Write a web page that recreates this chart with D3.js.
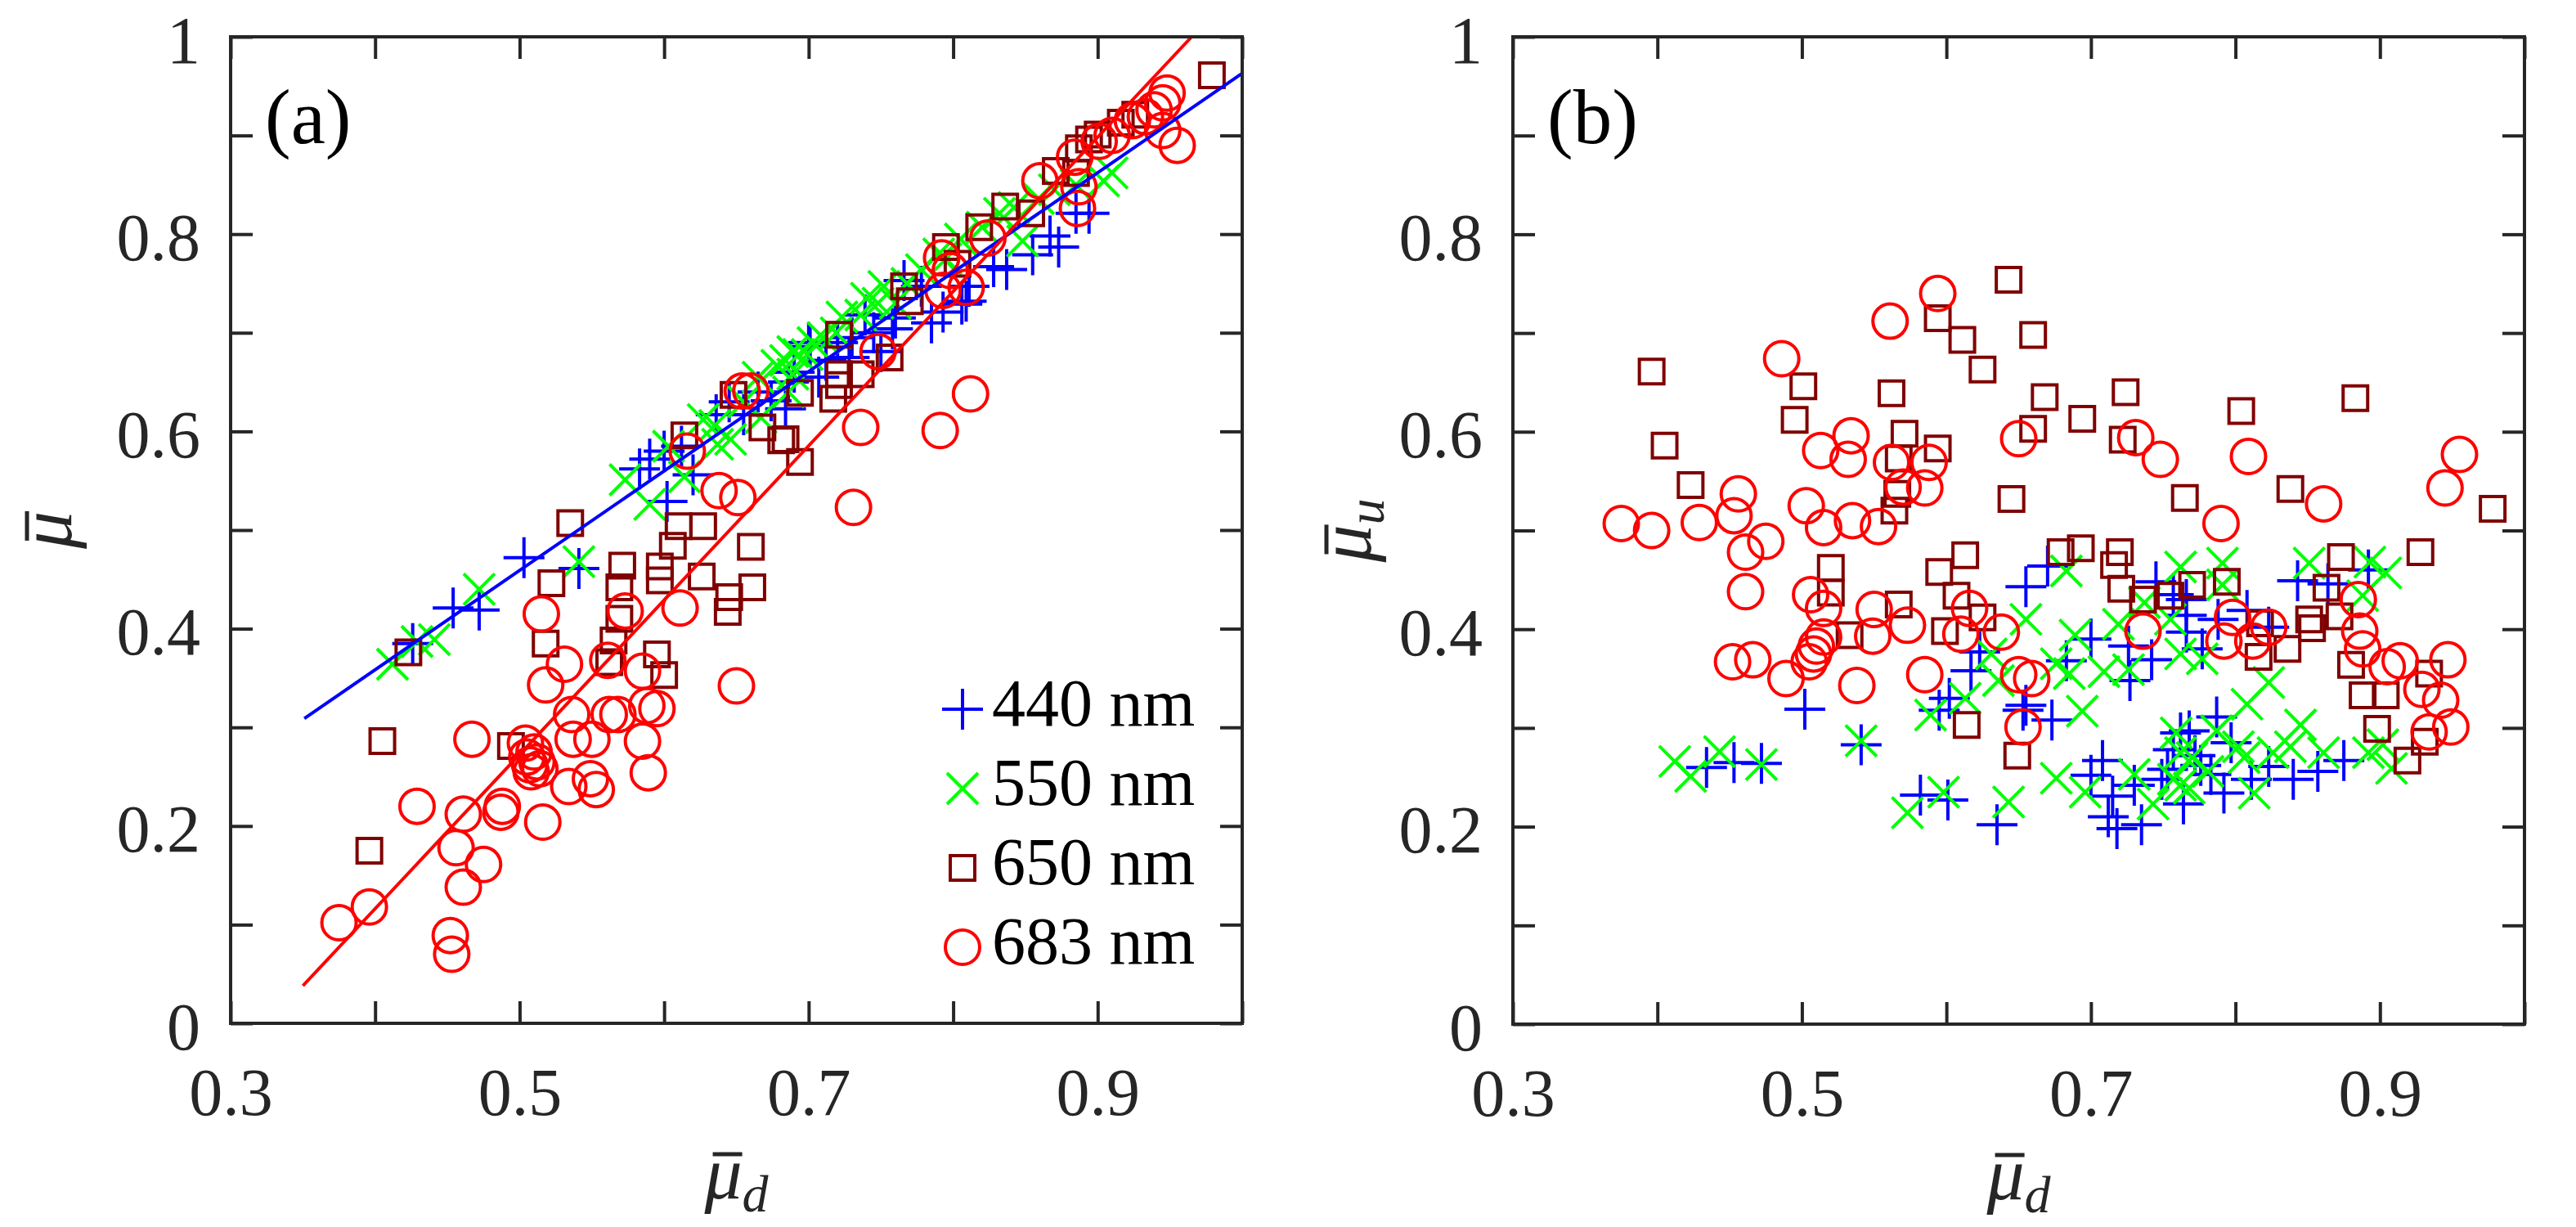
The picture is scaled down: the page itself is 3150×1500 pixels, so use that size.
<!DOCTYPE html>
<html><head><meta charset="utf-8">
<script src="https://cdn.jsdelivr.net/npm/d3@7"></script>
<style>html,body{margin:0;padding:0;background:#fff;}
text{font-family:"Liberation Serif","Times New Roman",Times,serif;}
</style>
</head><body><svg id="c" width="3150" height="1500"></svg>
<script>
// ---------- data ----------
const xTicks=[0.3,0.4,0.5,0.6,0.7,0.8,0.9,1.0];
const xTickLabels=[0.3,0.5,0.7,0.9];
const yTicks=[0,0.1,0.2,0.3,0.4,0.5,0.6,0.7,0.8,0.9,1.0];
const yTickLabels=[0,0.2,0.4,0.6,0.8,1];
const seriesNames=["440 nm","550 nm","650 nm","683 nm"];
const seriesColors=["#0000ff","#00ff00","#800000","#ff0000"];
const seriesSymbols=["plus","cross","square","circle"];
const panelLabels=["(a)","(b)"];

const a440=[[0.426,0.385],[0.454,0.421],[0.472,0.419],[0.503,0.472],[0.541,0.461],[0.583,0.562],[0.590,0.572],[0.602,0.529],[0.600,0.580],[0.612,0.585],[0.620,0.556],[0.636,0.617],[0.645,0.630],[0.655,0.617],[0.665,0.640],[0.674,0.631],[0.684,0.623],[0.686,0.650],[0.690,0.660],[0.700,0.690],[0.701,0.686],[0.707,0.655],[0.712,0.672],[0.720,0.690],[0.728,0.675],[0.730,0.695],[0.739,0.718],[0.745,0.700],[0.750,0.681],[0.758,0.704],[0.760,0.715],[0.766,0.753],[0.778,0.747],[0.785,0.710],[0.793,0.721],[0.806,0.729],[0.809,0.732],[0.811,0.747],[0.828,0.767],[0.837,0.764],[0.855,0.779],[0.867,0.798],[0.873,0.787],[0.885,0.821],[0.894,0.821]];
const a550=[[0.412,0.364],[0.429,0.387],[0.441,0.389],[0.472,0.440],[0.541,0.468],[0.573,0.551],[0.590,0.526],[0.603,0.585],[0.614,0.554],[0.627,0.612],[0.635,0.606],[0.637,0.587],[0.646,0.592],[0.655,0.630],[0.665,0.655],[0.667,0.614],[0.678,0.667],[0.684,0.672],[0.686,0.640],[0.689,0.681],[0.689,0.658],[0.693,0.678],[0.699,0.678],[0.703,0.690],[0.710,0.695],[0.719,0.700],[0.723,0.716],[0.736,0.718],[0.740,0.735],[0.748,0.730],[0.752,0.747],[0.760,0.730],[0.768,0.750],[0.778,0.764],[0.790,0.780],[0.795,0.775],[0.805,0.795],[0.820,0.807],[0.832,0.821],[0.842,0.827],[0.848,0.793],[0.859,0.836],[0.870,0.845],[0.885,0.850],[0.904,0.854],[0.910,0.862]];
const a650=[[0.396,0.175],[0.405,0.286],[0.423,0.376],[0.494,0.281],[0.518,0.385],[0.522,0.446],[0.535,0.507],[0.562,0.366],[0.565,0.388],[0.569,0.410],[0.569,0.442],[0.571,0.464],[0.595,0.374],[0.597,0.449],[0.597,0.463],[0.600,0.353],[0.606,0.484],[0.610,0.504],[0.614,0.596],[0.626,0.453],[0.627,0.504],[0.644,0.417],[0.645,0.432],[0.661,0.442],[0.660,0.483],[0.648,0.637],[0.668,0.604],[0.681,0.591],[0.694,0.569],[0.694,0.639],[0.684,0.592],[0.717,0.633],[0.721,0.647],[0.721,0.658],[0.721,0.698],[0.736,0.658],[0.756,0.675],[0.766,0.747],[0.770,0.732],[0.795,0.787],[0.803,0.770],[0.818,0.807],[0.836,0.828],[0.854,0.821],[0.871,0.864],[0.885,0.862],[0.887,0.887],[0.894,0.896],[0.900,0.901],[0.916,0.913],[0.926,0.921],[0.979,0.961]];
const a683=[[0.375,0.102],[0.396,0.118],[0.429,0.220],[0.452,0.089],[0.453,0.070],[0.456,0.178],[0.461,0.212],[0.461,0.138],[0.467,0.288],[0.475,0.161],[0.487,0.214],[0.488,0.220],[0.504,0.284],[0.505,0.270],[0.507,0.262],[0.508,0.255],[0.510,0.275],[0.512,0.265],[0.514,0.258],[0.515,0.415],[0.516,0.204],[0.518,0.343],[0.531,0.364],[0.534,0.240],[0.536,0.313],[0.537,0.288],[0.549,0.248],[0.550,0.288],[0.553,0.237],[0.561,0.368],[0.562,0.313],[0.568,0.313],[0.573,0.418],[0.585,0.357],[0.585,0.286],[0.588,0.322],[0.589,0.254],[0.595,0.319],[0.611,0.421],[0.616,0.580],[0.638,0.540],[0.650,0.342],[0.651,0.533],[0.654,0.641],[0.660,0.641],[0.731,0.523],[0.736,0.604],[0.748,0.681],[0.791,0.601],[0.792,0.776],[0.798,0.763],[0.809,0.746],[0.793,0.743],[0.812,0.638],[0.824,0.796],[0.860,0.854],[0.884,0.878],[0.886,0.826],[0.887,0.848],[0.901,0.894],[0.910,0.900],[0.924,0.915],[0.933,0.919],[0.939,0.926],[0.945,0.933],[0.948,0.943],[0.945,0.905],[0.955,0.890]];

const b440=[[0.434,0.260],[0.453,0.265],[0.472,0.264],[0.502,0.319],[0.541,0.283],[0.582,0.232],[0.595,0.318],[0.601,0.227],[0.602,0.330],[0.617,0.358],[0.623,0.377],[0.635,0.202],[0.653,0.318],[0.655,0.323],[0.655,0.443],[0.670,0.464],[0.673,0.308],[0.683,0.368],[0.700,0.390],[0.700,0.252],[0.708,0.267],[0.712,0.210],[0.715,0.231],[0.718,0.198],[0.726,0.383],[0.727,0.348],[0.730,0.242],[0.735,0.202],[0.742,0.369],[0.745,0.448],[0.749,0.248],[0.753,0.258],[0.757,0.435],[0.757,0.278],[0.762,0.295],[0.764,0.223],[0.766,0.397],[0.766,0.414],[0.766,0.430],[0.768,0.297],[0.772,0.272],[0.776,0.262],[0.777,0.380],[0.783,0.253],[0.787,0.311],[0.788,0.410],[0.792,0.234],[0.797,0.285],[0.808,0.419],[0.811,0.248],[0.823,0.402],[0.823,0.261],[0.840,0.248],[0.843,0.449],[0.857,0.256],[0.864,0.446],[0.875,0.267],[0.892,0.460]];
const b550=[[0.412,0.266],[0.423,0.251],[0.443,0.276],[0.472,0.263],[0.541,0.287],[0.573,0.214],[0.589,0.313],[0.598,0.235],[0.613,0.330],[0.631,0.375],[0.636,0.348],[0.643,0.225],[0.655,0.410],[0.676,0.365],[0.676,0.249],[0.683,0.459],[0.685,0.355],[0.689,0.394],[0.694,0.317],[0.696,0.235],[0.709,0.357],[0.719,0.405],[0.726,0.359],[0.730,0.253],[0.737,0.427],[0.743,0.223],[0.755,0.410],[0.757,0.248],[0.759,0.295],[0.762,0.463],[0.762,0.375],[0.762,0.275],[0.762,0.242],[0.768,0.239],[0.770,0.270],[0.777,0.370],[0.781,0.256],[0.787,0.297],[0.791,0.467],[0.791,0.445],[0.802,0.281],[0.806,0.270],[0.808,0.324],[0.813,0.234],[0.823,0.346],[0.826,0.275],[0.838,0.281],[0.845,0.303],[0.851,0.467],[0.861,0.275],[0.888,0.434],[0.892,0.275],[0.893,0.468],[0.902,0.283],[0.904,0.457],[0.908,0.259]];
const b650=[[0.396,0.661],[0.405,0.586],[0.423,0.546],[0.495,0.612],[0.501,0.646],[0.520,0.462],[0.520,0.437],[0.533,0.394],[0.562,0.639],[0.564,0.520],[0.566,0.537],[0.567,0.573],[0.567,0.425],[0.571,0.598],[0.594,0.715],[0.594,0.583],[0.595,0.458],[0.599,0.398],[0.607,0.434],[0.611,0.693],[0.613,0.475],[0.614,0.303],[0.625,0.663],[0.625,0.412],[0.643,0.754],[0.645,0.532],[0.649,0.272],[0.660,0.698],[0.660,0.603],[0.668,0.635],[0.679,0.478],[0.693,0.482],[0.694,0.613],[0.716,0.465],[0.720,0.478],[0.721,0.441],[0.722,0.592],[0.724,0.640],[0.736,0.430],[0.755,0.434],[0.765,0.533],[0.770,0.445],[0.794,0.448],[0.804,0.621],[0.816,0.372],[0.817,0.406],[0.836,0.380],[0.838,0.542],[0.851,0.410],[0.853,0.401],[0.863,0.442],[0.872,0.413],[0.873,0.473],[0.880,0.364],[0.883,0.634],[0.888,0.333],[0.898,0.299],[0.904,0.333],[0.919,0.267],[0.928,0.478],[0.931,0.286],[0.934,0.355],[0.978,0.522]];
const b683=[[0.375,0.507],[0.396,0.500],[0.429,0.508],[0.452,0.367],[0.453,0.515],[0.456,0.537],[0.461,0.478],[0.461,0.438],[0.466,0.369],[0.475,0.489],[0.486,0.674],[0.489,0.350],[0.503,0.525],[0.505,0.367],[0.506,0.435],[0.508,0.375],[0.510,0.383],[0.513,0.581],[0.515,0.503],[0.515,0.392],[0.515,0.421],[0.532,0.572],[0.534,0.596],[0.535,0.510],[0.538,0.343],[0.549,0.393],[0.550,0.420],[0.553,0.504],[0.561,0.712],[0.562,0.569],[0.570,0.544],[0.573,0.404],[0.585,0.543],[0.585,0.354],[0.588,0.569],[0.594,0.740],[0.610,0.395],[0.616,0.421],[0.638,0.397],[0.650,0.593],[0.650,0.354],[0.653,0.301],[0.659,0.350],[0.731,0.594],[0.736,0.398],[0.748,0.572],[0.790,0.507],[0.792,0.388],[0.798,0.412],[0.809,0.575],[0.812,0.388],[0.823,0.402],[0.861,0.527],[0.885,0.430],[0.886,0.398],[0.888,0.380],[0.905,0.362],[0.914,0.368],[0.929,0.339],[0.934,0.296],[0.942,0.328],[0.945,0.543],[0.947,0.369],[0.949,0.301],[0.955,0.577]];

// least-squares fit lines in panel (a): [x, y] end points
const fit440=[[0.351,0.309],[1.0,0.963]];
const fit683=[[0.350,0.038],[0.965,1.0]];

// ---------- drawing ----------
const svg=d3.select("#c");
svg.append("rect").attr("width",3150).attr("height",1500).attr("fill","#fff");
const FONT='"Liberation Serif","Times New Roman",Times,serif';
const AX="#262626";
const panels=[
  {left:282,top:45,width:1237,height:1206,series:[a440,a550,a650,a683],fits:[[fit440,"#0000ff"],[fit683,"#ff0000"]],legend:true,ysub:null},
  {left:1850,top:45,width:1237,height:1207,series:[b440,b550,b650,b683],fits:[],legend:false,ysub:"u"}
];
const symPath={
  plus:"M-25,0H25M0,-25V25",
  cross:"M-19,-19L19,19M-19,19L19,-19",
  square:"M-15,-15H15V15H-15Z"
};
function drawMarker(g,sym,color){
  if(sym==="circle"){
    g.append("circle").attr("r",21).attr("fill","none").attr("stroke",color).attr("stroke-width",4);
  } else {
    g.append("path").attr("d",symPath[sym]).attr("fill","none").attr("stroke",color).attr("stroke-width",4).attr("stroke-linecap","butt");
  }
}
// math label: mu with overbar and optional subscript
function mathLabel(parent,sub){
  const t=parent.append("text").attr("x",0).attr("y",0).attr("text-anchor","middle")
    .style("font-family",FONT).style("font-size","92px").style("font-style","italic").attr("fill",AX);
  t.append("tspan").text("\u03BC");
  t.append("tspan").attr("dy",16).style("font-size","64px").text(sub);
  const e=t.node().getExtentOfChar(0);
  parent.append("line").attr("x1",e.x+e.width*0.22).attr("x2",e.x+e.width*1.0)
    .attr("y1",-54).attr("y2",-54).attr("stroke",AX).attr("stroke-width",5);
  return t;
}
panels.forEach((p,pi)=>{
  const g=svg.append("g").attr("transform",`translate(${p.left},${p.top})`);
  const x=d3.scaleLinear().domain([0.3,1.0]).range([0,p.width]);
  const y=d3.scaleLinear().domain([0,1]).range([p.height,0]);
  const fmt=v=>{const r=Math.round(v*10)/10; return xTickLabels.some(t=>Math.abs(t-r)<1e-6)?String(r):"";};
  const fmtY=v=>{const r=Math.round(v*10)/10; return yTickLabels.some(t=>Math.abs(t-r)<1e-6)?String(r):"";};
  const axB=g.append("g").attr("transform",`translate(0,${p.height})`).call(d3.axisBottom(x).tickValues(xTicks).tickSize(-27).tickSizeOuter(0).tickPadding(54).tickFormat(fmt));
  const axT=g.append("g").call(d3.axisTop(x).tickValues(xTicks).tickSize(-27).tickSizeOuter(0).tickFormat(""));
  const axL=g.append("g").call(d3.axisLeft(y).tickValues(yTicks).tickSize(-27).tickSizeOuter(0).tickPadding(37).tickFormat(fmtY));
  const axR=g.append("g").attr("transform",`translate(${p.width},0)`).call(d3.axisRight(y).tickValues(yTicks).tickSize(-27).tickSizeOuter(0).tickFormat(""));
  [axB,axT,axL,axR].forEach(a=>{
    a.attr("font-family",null).attr("font-size",null);
    a.select(".domain").remove();
    a.selectAll(".tick line").attr("stroke",AX).attr("stroke-width",4);
    a.selectAll(".tick text").attr("fill",AX).style("font-family",FONT).style("font-size","82px");
  });
  axL.selectAll(".tick text").attr("dy","0.38em");
  p.series.forEach((data,si)=>{
    const sg=g.append("g");
    data.forEach(d=>{
      const mg=sg.append("g").attr("transform",`translate(${x(d[0])},${y(d[1])})`);
      drawMarker(mg,seriesSymbols[si],seriesColors[si]);
    });
  });
  const line=d3.line().x(d=>x(d[0])).y(d=>y(d[1]));
  p.fits.forEach(([f,c])=>{
    g.append("path").attr("d",line(f)).attr("fill","none").attr("stroke",c).attr("stroke-width",4);
  });
  g.append("rect").attr("width",p.width).attr("height",p.height).attr("fill","none").attr("stroke",AX).attr("stroke-width",4);
  g.append("text").attr("x",42).attr("y",130).text(panelLabels[pi]).attr("fill","#000").style("font-family",FONT).style("font-size","95px");
  const xg=g.append("g").attr("transform",`translate(${p.width/2},${p.height+214})`);
  mathLabel(xg,"d");
  const yg=g.append("g").attr("transform",`translate(${pi===0?-195:-174},${p.height/2}) rotate(-90)`);
  mathLabel(yg,p.ysub||"");
  if(p.legend){
    const lg=g.append("g").attr("transform",`translate(${1177-p.left},${867-p.top})`);
    seriesNames.forEach((n,i)=>{
      const r=lg.append("g").attr("transform",`translate(0,${i*97})`);
      drawMarker(r,seriesSymbols[i],seriesColors[i]);
      r.append("text").attr("x",36).attr("y",20).text(n).attr("fill","#000").style("font-family",FONT).style("font-size","82px");
    });
  }
});
</script></body></html>
